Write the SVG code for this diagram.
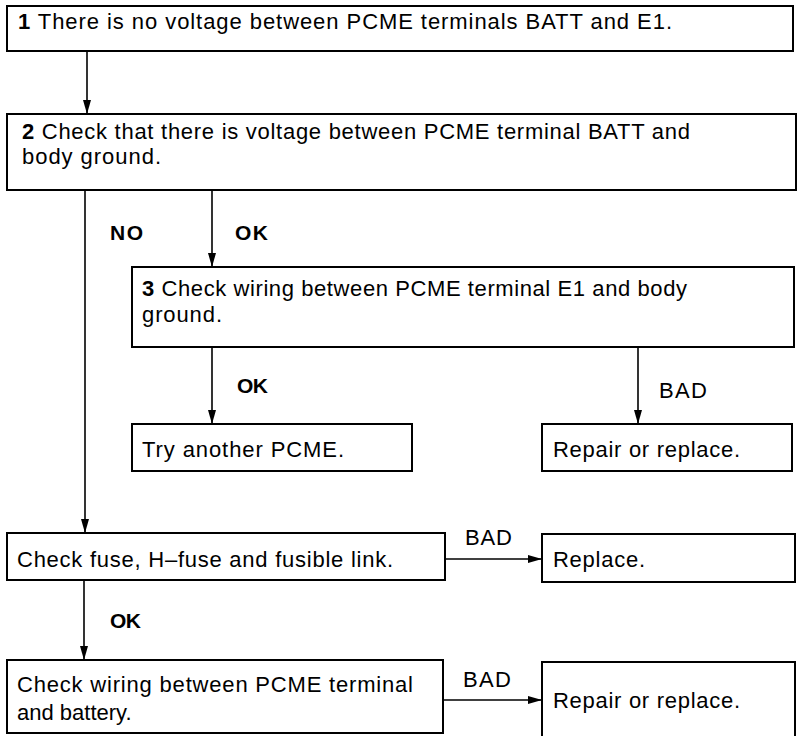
<svg xmlns="http://www.w3.org/2000/svg" width="801" height="736" viewBox="0 0 801 736">
<defs>
<style>
.box{fill:#fff;stroke:#000;stroke-width:2}
.t{font-family:"Liberation Sans",Arial,sans-serif;font-size:22px;fill:#000}
.b{font-weight:bold}
.lbl{font-family:"Liberation Sans",Arial,sans-serif;font-size:21px;font-weight:bold;fill:#000}
.bad{font-family:"Liberation Sans",Arial,sans-serif;font-size:22px;fill:#000}
.c{fill:none;stroke:#000;stroke-width:1.6}
</style>
<marker id="ah" viewBox="0 0 14 8" refX="14" refY="4" markerWidth="14" markerHeight="8" markerUnits="userSpaceOnUse" orient="auto">
<path d="M0,0 L14,4 L0,8 Z" fill="#000"/>
</marker>
</defs>
<rect width="801" height="736" fill="#fff"/>
<g id="connectors">
<path class="c" d="M87,52 V114" marker-end="url(#ah)"/>
<path class="c" d="M85,190 V533" marker-end="url(#ah)"/>
<path class="c" d="M212,190 V267" marker-end="url(#ah)"/>
<path class="c" d="M212,347 V424" marker-end="url(#ah)"/>
<path class="c" d="M638,347 V424" marker-end="url(#ah)"/>
<path class="c" d="M445,559 H542" marker-end="url(#ah)"/>
<path class="c" d="M84,580 V660" marker-end="url(#ah)"/>
<path class="c" d="M443,700 H542" marker-end="url(#ah)"/>
<text class="lbl" x="110" y="240" textLength="33">NO</text>
<text class="lbl" x="235" y="240" textLength="33">OK</text>
<text class="lbl" x="237" y="393" textLength="31">OK</text>
<text class="bad" x="659" y="398" textLength="48">BAD</text>
<text class="bad" x="465" y="545" textLength="47">BAD</text>
<text class="lbl" x="110" y="628" textLength="31">OK</text>
<text class="bad" x="463" y="687" textLength="48">BAD</text>
</g>
<g id="n1">
<rect class="box" x="7" y="6" width="786" height="45"/>
<text class="t" x="18" y="29" textLength="654"><tspan class="b">1</tspan> There is no voltage between PCME terminals BATT and E1.</text>
</g>
<g id="n2">
<rect class="box" x="7" y="114" width="789" height="76"/>
<text class="t" x="22" y="139" textLength="668"><tspan class="b">2</tspan> Check that there is voltage between PCME terminal BATT and</text>
<text class="t" x="22" y="164" textLength="139">body ground.</text>
</g>
<g id="n3">
<rect class="box" x="132" y="267" width="662" height="80"/>
<text class="t" x="142" y="296" textLength="545"><tspan class="b">3</tspan> Check wiring between PCME terminal E1 and body</text>
<text class="t" x="142" y="322" textLength="80">ground.</text>
</g>
<g id="n4">
<rect class="box" x="132" y="424" width="280" height="47"/>
<text class="t" x="142" y="457" textLength="202">Try another PCME.</text>
</g>
<g id="n5">
<rect class="box" x="542" y="424" width="250" height="47"/>
<text class="t" x="553" y="457" textLength="187">Repair or replace.</text>
</g>
<g id="n6">
<rect class="box" x="7" y="533" width="438" height="47"/>
<text class="t" x="17" y="567" textLength="376">Check fuse, H–fuse and fusible link.</text>
</g>
<g id="n7">
<rect class="box" x="542" y="534" width="253" height="48"/>
<text class="t" x="553" y="567" textLength="92">Replace.</text>
</g>
<g id="n8">
<rect class="box" x="7" y="660" width="436" height="73"/>
<text class="t" x="17" y="692" textLength="396">Check wiring between PCME terminal</text>
<text class="t" x="17" y="720">and battery.</text>
</g>
<g id="n9">
<rect class="box" x="542" y="662" width="253" height="80"/>
<text class="t" x="553" y="708" textLength="187">Repair or replace.</text>
</g>
</svg>
